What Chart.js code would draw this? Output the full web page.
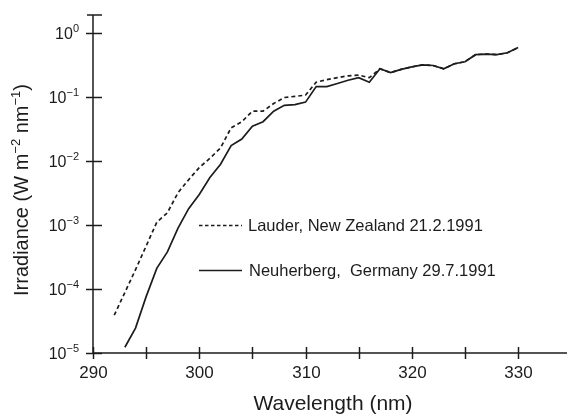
<!DOCTYPE html>
<html>
<head>
<meta charset="utf-8">
<script src="https://cdn.jsdelivr.net/npm/chart.js@4"></script>
<style>
  html, body { margin: 0; padding: 0; background: #fff; }
  #wrap { width: 567px; height: 416px; }
</style>
</head>
<body>
<div id="wrap"><canvas id="chart" width="567" height="416"></canvas></div>
<script>
/*global Chart, document*/
"use strict";

// Lauder, New Zealand 21.2.1991 (dashed)
var lauderNm = [292, 294, 296, 297, 298, 299, 300, 301, 302, 303, 304, 305, 306, 307, 308, 309, 310,
  311, 312, 313, 314, 315, 316, 317, 318, 319, 320, 321, 322, 323, 324, 325, 326, 327, 328, 329, 330];
var lauderVal = [3.9e-5, 2.0e-4, 1.1e-3, 1.55e-3, 3.2e-3, 5.1e-3, 7.9e-3, 1.1e-2, 1.6e-2, 3.3e-2, 4.1e-2,
  6.0e-2, 6.0e-2, 7.9e-2, 9.8e-2, 0.102, 0.107, 0.17, 0.186, 0.2, 0.214, 0.219, 0.2, 0.275, 0.24, 0.27,
  0.295, 0.316, 0.31, 0.275, 0.33, 0.355, 0.457, 0.468, 0.457, 0.49, 0.59];

// Neuherberg, Germany 29.7.1991 (solid)
var neuNm = [293, 294, 295, 296, 297, 298, 299, 300, 301, 302, 303, 304, 305, 306, 307, 308, 309, 310,
  311, 312, 313, 314, 315, 316, 317, 318, 319, 320, 321, 322, 323, 324, 325, 326, 327, 328, 329, 330];
var neuVal = [1.23e-5, 2.45e-5, 7.6e-5, 2.1e-4, 3.8e-4, 8.9e-4, 1.8e-3, 3.0e-3, 5.5e-3, 8.9e-3, 1.74e-2,
  2.2e-2, 3.5e-2, 4.1e-2, 6.0e-2, 7.4e-2, 7.6e-2, 8.3e-2, 0.145, 0.145, 0.162, 0.182, 0.2, 0.17, 0.275,
  0.24, 0.27, 0.295, 0.316, 0.31, 0.275, 0.33, 0.355, 0.457, 0.468, 0.457, 0.49, 0.59];

var xTicks = [290, 295, 300, 305, 310, 315, 320, 325, 330];
var xTickLabels = ["290", "", "300", "", "310", "", "320", "", "330"];
var yTickExp = [0, -1, -2, -3, -4, -5];
var legendLabels = ["Lauder, New Zealand 21.2.1991", "Neuherberg,  Germany 29.7.1991"];

var INK = "#1c1c1c";
var FONT = "'Liberation Sans', Arial, Helvetica, sans-serif";

function pts(xs, ys) {
  var out = [], i;
  for (i = 0; i < xs.length; i += 1) {
    out.push({x: xs[i], y: ys[i]});
  }
  return out;
}

// draws a run of [text, size, raise] pieces centred at 0
function drawRuns(ctx, runs) {
  var total = 0, i, x;
  for (i = 0; i < runs.length; i += 1) {
    ctx.font = runs[i][1] + "px " + FONT;
    total += ctx.measureText(runs[i][0]).width;
  }
  x = -total / 2;
  ctx.textAlign = "left";
  for (i = 0; i < runs.length; i += 1) {
    ctx.font = runs[i][1] + "px " + FONT;
    ctx.fillText(runs[i][0], x, -runs[i][2]);
    x += ctx.measureText(runs[i][0]).width;
  }
}

var axesPlugin = {
  id: "paperAxes",
  afterDraw: function (chart) {
    var ctx = chart.ctx,
      xs = chart.scales.x,
      ys = chart.scales.y,
      a = chart.chartArea,
      i, px, py, ex, ew;
    ctx.save();
    ctx.strokeStyle = INK;
    ctx.fillStyle = INK;
    ctx.lineWidth = 1.5;

    // axis lines
    ctx.beginPath();
    ctx.moveTo(a.left, a.top);
    ctx.lineTo(a.left, a.bottom);
    ctx.lineTo(a.right, a.bottom);
    ctx.moveTo(a.left - 6, a.top);
    ctx.lineTo(a.left + 9, a.top);
    ctx.stroke();

    // y ticks and labels
    for (i = 0; i < yTickExp.length; i += 1) {
      py = Math.round(ys.getPixelForValue(Math.pow(10, yTickExp[i]))) + 0.5;
      ctx.beginPath();
      ctx.moveTo(a.left - 7, py);
      ctx.lineTo(a.left + 9, py);
      ctx.stroke();
      ex = yTickExp[i] === 0 ? "0" : "\u2212" + String(-yTickExp[i]);
      ctx.font = "11px " + FONT;
      ew = ctx.measureText(ex).width;
      ctx.textAlign = "left";
      ctx.textBaseline = "middle";
      ctx.fillText(ex, a.left - 14 - ew, py - 5);
      ctx.font = "16px " + FONT;
      ctx.textAlign = "right";
      ctx.fillText("10", a.left - 14 - ew, py + 1);
    }

    // x ticks and labels
    ctx.font = "17px " + FONT;
    ctx.textAlign = "center";
    ctx.textBaseline = "middle";
    for (i = 0; i < xTicks.length; i += 1) {
      px = Math.round(xs.getPixelForValue(xTicks[i])) + 0.5;
      ctx.beginPath();
      ctx.moveTo(px, a.bottom - 6);
      ctx.lineTo(px, a.bottom + 6);
      ctx.stroke();
      if (xTickLabels[i]) {
        ctx.fillText(xTickLabels[i], px, a.bottom + 20);
      }
    }

    // axis titles
    ctx.font = "21px " + FONT;
    ctx.fillText("Wavelength (nm)", 333, 404);
    ctx.save();
    ctx.translate(22, 190);
    ctx.rotate(-Math.PI / 2);
    drawRuns(ctx, [
      ["Irradiance (W m", 20, 0],
      ["\u22122", 13, 6],
      [" nm", 20, 0],
      ["\u22121", 13, 6],
      [")", 20, 0]
    ]);
    ctx.restore();

    // legend
    ctx.lineWidth = 1.4;
    ctx.beginPath();
    ctx.setLineDash([3.5, 2.5]);
    ctx.moveTo(199, 225.5);
    ctx.lineTo(242, 225.5);
    ctx.stroke();
    ctx.setLineDash([]);
    ctx.beginPath();
    ctx.moveTo(199, 270.5);
    ctx.lineTo(242, 270.5);
    ctx.stroke();
    ctx.font = "16.5px " + FONT;
    ctx.textAlign = "left";
    ctx.textBaseline = "middle";
    ctx.fillText(legendLabels[0], 248, 226);
    ctx.fillText(legendLabels[1], 249, 271);
    ctx.restore();
  }
};

new Chart(document.getElementById("chart"), {
  type: "line",
  data: {
    datasets: [
      {
        label: legendLabels[0],
        data: pts(lauderNm, lauderVal),
        borderColor: INK,
        borderWidth: 1.7,
        borderDash: [4, 3],
        pointRadius: 0,
        tension: 0,
        fill: false
      },
      {
        label: legendLabels[1],
        data: pts(neuNm, neuVal),
        borderColor: INK,
        borderWidth: 1.7,
        pointRadius: 0,
        tension: 0,
        fill: false
      }
    ]
  },
  options: {
    responsive: false,
    animation: false,
    devicePixelRatio: 1,
    layout: {padding: {left: 93, top: 15, right: 0, bottom: 63}},
    plugins: {legend: {display: false}, tooltip: {enabled: false}},
    scales: {
      x: {type: "linear", min: 290, max: 334.6, display: false},
      y: {type: "logarithmic", min: 1e-5, max: Math.pow(10, 0.28), display: false}
    }
  },
  plugins: [axesPlugin]
});
</script>
</body>
</html>
